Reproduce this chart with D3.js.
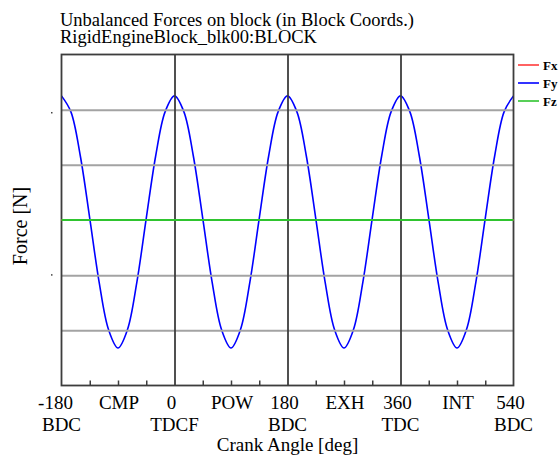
<!DOCTYPE html>
<html>
<head>
<meta charset="utf-8">
<script src="https://cdn.jsdelivr.net/npm/d3@7/dist/d3.min.js"></script>
<style>
  html, body { margin: 0; padding: 0; background: #fff; }
  svg { display: block; }
  text { font-family: "Liberation Serif", "Times New Roman", serif; fill: #000; }
</style>
</head>
<body>
<svg id="chart" width="560" height="455"></svg>
<script>
// Crank angle samples [deg] and the vertical unbalanced force Fy at each
const angles = [
  -180, -165, -150, -135, -120, -105, -90, -75, -60, -45, -30, -15,
  0, 15, 30, 45, 60, 75, 90, 105, 120, 135, 150, 165,
  180, 195, 210, 225, 240, 255, 270, 285, 300, 315, 330, 345,
  360, 375, 390, 405, 420, 435, 450, 465, 480, 495, 510, 525,
  540
];
const fy = [
  2.25, 1.96, 1.16, 0.03, -1.13, -1.99, -2.32, -1.99, -1.13, 0.03, 1.16, 1.96,
  2.25, 1.96, 1.16, 0.03, -1.13, -1.99, -2.32, -1.99, -1.13, 0.03, 1.16, 1.96,
  2.25, 1.96, 1.16, 0.03, -1.13, -1.99, -2.32, -1.99, -1.13, 0.03, 1.16, 1.96,
  2.25, 1.96, 1.16, 0.03, -1.13, -1.99, -2.32, -1.99, -1.13, 0.03, 1.16, 1.96,
  2.25
];
// Fx and Fz stay at zero over the whole cycle
const flatAngles = [-180, 0, 180, 360, 540];
const fx = [0, 0, 0, 0, 0];
const fz = [0, 0, 0, 0, 0];

const seriesNames = ["Fx", "Fy", "Fz"];
const seriesColors = ["#ff3b3b", "#0000ff", "#2fc42f"];

// Axis ticks and labels
const strokeAngles = [0, 180, 360];
const minorTicks = [-135, -90, -45, 45, 90, 135, 225, 270, 315, 405, 450, 495];
const topLabelAngles = [-180, -90, 0, 90, 180, 270, 360, 450, 540];
const topLabels = ["-180", "CMP", "0", "POW", "180", "EXH", "360", "INT", "540"];
const bottomLabelAngles = [-180, 0, 180, 360, 540];
const bottomLabels = ["BDC", "TDCF", "BDC", "TDC", "BDC"];
const gridValues = [-2, -1, 1, 2];
const yMarks = [1.94, -1.0];

const titleLines = ["Unbalanced Forces on block  (in Block Coords.)", "RigidEngineBlock_blk00:BLOCK"];

const svg = d3.select("#chart");
const plotL = 61.5, plotR = 513.5, plotT = 54.5, plotB = 385.5;

const x = d3.scaleLinear().domain([-180, 540]).range([plotL, plotR]);
const y = d3.scaleLinear().domain([-3, 3]).range([plotB, plotT]);

// Title
svg.append("g").selectAll("text").data(titleLines).join("text")
  .attr("x", 60).attr("y", (d, i) => 26 + i * 17)
  .style("font-size", "18.5px")
  .text(d => d);

const line = d3.line().x(d => x(d[0])).y(d => y(d[1]));

// Fy curve
svg.append("path")
  .datum(angles.map((a, i) => [a, fy[i]]))
  .attr("fill", "none").attr("stroke", seriesColors[1]).attr("stroke-width", 1.6)
  .attr("d", d3.line().x(d => x(d[0])).y(d => y(d[1])).curve(d3.curveCatmullRom));

// Horizontal grid
svg.append("g")
  .attr("transform", `translate(${plotL},0)`)
  .call(d3.axisLeft(y).tickValues(gridValues).tickSize(-(plotR - plotL)).tickFormat(""))
  .call(g => g.select(".domain").remove())
  .call(g => g.selectAll(".tick line").attr("stroke", "#a3a3a3").attr("stroke-width", 2));

// Vertical stroke dividers
svg.append("g")
  .attr("transform", `translate(0,${plotB})`)
  .call(d3.axisBottom(x).tickValues(strokeAngles).tickSize(-(plotB - plotT)).tickFormat(""))
  .call(g => g.select(".domain").remove())
  .call(g => g.selectAll(".tick line").attr("stroke", "#3d3d3d").attr("stroke-width", 1.8));

// Minor ticks along the bottom edge
svg.append("g")
  .attr("transform", `translate(0,${plotB})`)
  .call(d3.axisBottom(x).tickValues(minorTicks).tickSize(-5).tickFormat(""))
  .call(g => g.select(".domain").remove())
  .call(g => g.selectAll(".tick line").attr("stroke", "#3d3d3d").attr("stroke-width", 1.5));

// Plot frame
svg.append("rect")
  .attr("x", plotL).attr("y", plotT)
  .attr("width", plotR - plotL).attr("height", plotB - plotT)
  .attr("fill", "none").attr("stroke", "#3d3d3d").attr("stroke-width", 1.8);

// Fx and Fz
svg.append("path")
  .datum(flatAngles.map((a, i) => [a, fx[i]]))
  .attr("fill", "none").attr("stroke", seriesColors[0]).attr("stroke-width", 2)
  .attr("d", line);
svg.append("path")
  .datum(flatAngles.map((a, i) => [a, fz[i]]))
  .attr("fill", "none").attr("stroke", seriesColors[2]).attr("stroke-width", 2)
  .attr("d", line);

// Y-axis marks
svg.append("g").selectAll("rect").data(yMarks).join("rect")
  .attr("x", 51).attr("y", d => y(d) - 1).attr("width", 1.5).attr("height", 1.5)
  .attr("fill", "#444");

// Bottom labels
svg.append("g").selectAll("text").data(topLabels).join("text")
  .attr("x", (d, i) => x(topLabelAngles[i]))
  .attr("y", 409)
  .attr("dx", d => /^-/.test(d) ? -6 : (/^\d/.test(d) ? -3 : 1))
  .attr("text-anchor", "middle")
  .style("font-size", "19px")
  .text(d => d);
svg.append("g").selectAll("text").data(bottomLabels).join("text")
  .attr("x", (d, i) => x(bottomLabelAngles[i]))
  .attr("y", 431)
  .attr("text-anchor", "middle")
  .style("font-size", "19px")
  .text(d => d);

svg.append("text")
  .attr("x", (plotL + plotR) / 2).attr("y", 451)
  .attr("text-anchor", "middle")
  .style("font-size", "19px")
  .text("Crank Angle [deg]");

svg.append("text")
  .attr("transform", "translate(27,226) rotate(-90)")
  .attr("text-anchor", "middle")
  .style("font-size", "20px")
  .text("Force [N]");

// Legend
const legend = svg.append("g").selectAll("g").data(seriesNames).join("g")
  .attr("transform", (d, i) => `translate(518,${65 + i * 18})`);
legend.append("line")
  .attr("x1", 0).attr("x2", 21).attr("y1", 0).attr("y2", 0)
  .attr("stroke", (d, i) => seriesColors[i]).attr("stroke-width", 1.6);
legend.append("text")
  .attr("x", 25).attr("y", 4.5)
  .style("font-size", "13px").style("font-weight", "bold")
  .text(d => d);
</script>
</body>
</html>
